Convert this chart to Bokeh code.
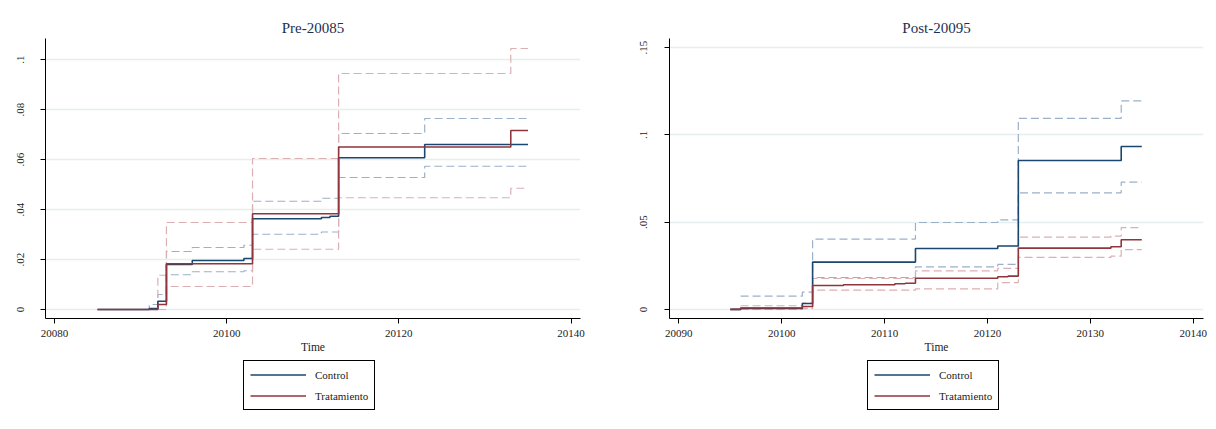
from bokeh.plotting import figure
from bokeh.models import Legend, LegendItem, FixedTicker, Range1d
from bokeh.layouts import row, column
from bokeh.embed import file_html
from bokeh.resources import INLINE

# ---------------- data: Pre-20085 ----------------
pre_ctrl_t = [20085, 20091, 20092, 20093, 20096, 20102, 20103, 20111, 20112, 20113, 20123, 20135]
pre_ctrl_y = [0, 0.0004, 0.0033, 0.018, 0.0196, 0.0204, 0.0363, 0.0368, 0.0373, 0.0607, 0.066, 0.066]
pre_trat_t = [20085, 20092, 20093, 20103, 20113, 20133, 20135]
pre_trat_y = [0, 0.002, 0.0183, 0.0383, 0.065, 0.0716, 0.0716]
pre_ctrl_hi_t = [20085, 20091, 20092, 20093, 20096, 20102, 20103, 20111, 20113, 20123, 20135]
pre_ctrl_hi_y = [0, 0.002, 0.006, 0.0232, 0.0248, 0.0257, 0.0433, 0.0445, 0.0704, 0.0764, 0.0764]
pre_ctrl_lo_t = [20085, 20093, 20096, 20102, 20103, 20111, 20113, 20123, 20135]
pre_ctrl_lo_y = [0, 0.0139, 0.0151, 0.0155, 0.0301, 0.031, 0.0528, 0.0573, 0.0573]
pre_trat_hi_t = [20085, 20092, 20093, 20103, 20113, 20133, 20135]
pre_trat_hi_y = [0, 0.0137, 0.0348, 0.0604, 0.0944, 0.1044, 0.1044]
pre_trat_lo_t = [20085, 20093, 20103, 20113, 20133, 20135]
pre_trat_lo_y = [0, 0.0092, 0.0241, 0.0447, 0.0485, 0.0485]

# ---------------- data: Post-20095 ----------------
post_ctrl_t = [20095, 20096, 20102, 20103, 20113, 20121, 20123, 20133, 20135]
post_ctrl_y = [0, 0.0006, 0.0034, 0.0271, 0.0349, 0.0363, 0.0853, 0.0933, 0.0933]
post_trat_t = [20095, 20096, 20102, 20103, 20106, 20111, 20112, 20113, 20121, 20122, 20123, 20132, 20133, 20135]
post_trat_y = [0, 0.0008, 0.0017, 0.0137, 0.0141, 0.0147, 0.015, 0.0179, 0.0187, 0.0191, 0.0351, 0.0359, 0.0399, 0.0399]
post_ctrl_hi_t = [20096, 20102, 20103, 20113, 20121, 20123, 20133, 20135]
post_ctrl_hi_y = [0.0076, 0.0099, 0.0403, 0.0498, 0.0513, 0.1094, 0.1195, 0.1195]
post_ctrl_lo_t = [20096, 20102, 20103, 20113, 20121, 20123, 20133, 20135]
post_ctrl_lo_y = [0.0, 0.0006, 0.0183, 0.0244, 0.0258, 0.0668, 0.0729, 0.0729]
post_trat_hi_t = [20096, 20102, 20103, 20113, 20121, 20123, 20132, 20133, 20135]
post_trat_hi_y = [0.0021, 0.0036, 0.0177, 0.0221, 0.0235, 0.0414, 0.042, 0.0469, 0.0469]
post_trat_lo_t = [20096, 20102, 20103, 20113, 20121, 20123, 20132, 20133, 20135]
post_trat_lo_y = [0.0, 0.0005, 0.0111, 0.0118, 0.0153, 0.0298, 0.0305, 0.0342, 0.0342]

pre_xticks = [20080, 20100, 20120, 20140]
pre_yticks = [0, 0.02, 0.04, 0.06, 0.08, 0.1]
pre_ylabels = ["0", ".02", ".04", ".06", ".08", ".1"]
post_xticks = [20090, 20100, 20110, 20120, 20130, 20140]
post_yticks = [0, 0.05, 0.1, 0.15]
post_ylabels = ["0", ".05", ".1", ".15"]
legend_labels = ["Control", "Tratamiento"]

NAVY = "#1a476f"
MAROON = "#90353b"
NAVY_CI = "#9cb0c8"
MAROON_CI = "#dbafb4"
GRID = "#e6eff0"
FONT = "Liberation Serif"


def panel(title, xr, yr, xticks, yticks, ylabels, series, width, bl, fw, br):
    p = figure(width=width, height=358, output_backend="svg", toolbar_location=None,
               x_range=Range1d(*xr), y_range=Range1d(*yr),
               min_border_left=bl, min_border_right=br, min_border_top=38,
               min_border_bottom=40, frame_width=fw, frame_height=280)
    p.outline_line_color = None
    p.background_fill_color = "white"
    p.border_fill_color = "white"
    p.title.text = title
    p.title.align = "center"
    p.title.text_font = FONT
    p.title.text_font_size = "15px"
    p.title.text_font_style = "normal"
    p.title.text_color = "#1c2f52"
    p.title.standoff = 6

    p.xgrid.grid_line_color = None
    p.ygrid.grid_line_color = GRID
    p.ygrid.grid_line_width = 1.5

    xa = p.xaxis[0]
    xa.ticker = FixedTicker(ticks=xticks)
    xa.axis_label = "Time"
    ya = p.yaxis[0]
    ya.ticker = FixedTicker(ticks=yticks)
    ya.major_label_overrides = {t: l for t, l in zip(yticks, ylabels)}
    ya.major_label_orientation = "vertical"
    ya.major_label_standoff = 17
    for a in (xa, ya):
        a.axis_line_color = "black"
        a.axis_line_width = 1
        a.major_tick_line_color = "black"
        a.major_tick_out = 5
        a.major_tick_in = 0
        a.minor_tick_line_color = None
        a.major_label_text_font = FONT
        a.major_label_text_font_size = "11px"
        a.major_label_text_color = "#222222"
    xa.major_label_standoff = 6
    xa.axis_label_text_font = FONT
    xa.axis_label_text_font_size = "11.5px"
    xa.axis_label_text_font_style = "normal"
    xa.axis_label_text_color = "#222222"
    xa.axis_label_standoff = 1

    (ct, cy), (tt, ty), (cht, chy), (clt, cly), (tht, thy), (tlt, tly) = series
    p.step(cht, chy, mode="after", line_color=NAVY_CI, line_width=1.2, line_dash="8 4")
    p.step(clt, cly, mode="after", line_color=NAVY_CI, line_width=1.2, line_dash="8 4")
    p.step(tht, thy, mode="after", line_color=MAROON_CI, line_width=1.2, line_dash="8 4")
    p.step(tlt, tly, mode="after", line_color=MAROON_CI, line_width=1.2, line_dash="8 4")
    p.step(ct, cy, mode="after", line_color=NAVY, line_width=1.6)
    p.step(tt, ty, mode="after", line_color=MAROON, line_width=1.6)
    return p


def legend_fig(width, bl, fw, br, leg_x, series):
    (ct, cy), (tt, ty) = series
    f = figure(width=width, height=63, output_backend="svg", toolbar_location=None,
               x_range=Range1d(0, 1), y_range=Range1d(0, 1),
               min_border_left=bl, min_border_right=br, min_border_top=0, min_border_bottom=0,
               frame_width=fw, frame_height=63)
    f.axis.visible = False
    f.grid.visible = False
    f.outline_line_color = None
    f.background_fill_color = "white"
    f.border_fill_color = "white"
    # legend proxies: the real series, drawn outside this (empty) view
    rc = f.step(ct, cy, mode="after", line_color=NAVY, line_width=1.6)
    rt = f.step(tt, ty, mode="after", line_color=MAROON, line_width=1.6)
    leg = Legend(items=[LegendItem(label=legend_labels[0], renderers=[rc]),
                        LegendItem(label=legend_labels[1], renderers=[rt])],
                 location=(leg_x, 11), orientation="vertical")
    leg.border_line_color = "black"
    leg.border_line_width = 1
    leg.border_line_alpha = 1
    leg.background_fill_color = "white"
    leg.padding = 6
    leg.spacing = 6
    leg.glyph_width = 56
    leg.glyph_height = 15
    leg.label_standoff = 9
    leg.label_text_font = FONT
    leg.label_text_font_size = "11px"
    leg.label_text_color = "#222222"
    leg.margin = 0
    f.add_layout(leg, "center")
    return f


p1 = panel("Pre-20085", (20078.95, 20141.1), (-0.0036, 0.1084), pre_xticks, pre_yticks, pre_ylabels,
           [(pre_ctrl_t, pre_ctrl_y), (pre_trat_t, pre_trat_y),
            (pre_ctrl_hi_t, pre_ctrl_hi_y), (pre_ctrl_lo_t, pre_ctrl_lo_y),
            (pre_trat_hi_t, pre_trat_hi_y), (pre_trat_lo_t, pre_trat_lo_y)],
           612, 45, 535, 32)
p2 = panel("Post-20095", (20089.09, 20141.0), (-0.0052, 0.1552), post_xticks, post_yticks, post_ylabels,
           [(post_ctrl_t, post_ctrl_y), (post_trat_t, post_trat_y),
            (post_ctrl_hi_t, post_ctrl_hi_y), (post_ctrl_lo_t, post_ctrl_lo_y),
            (post_trat_hi_t, post_trat_hi_y), (post_trat_lo_t, post_trat_lo_y)],
           600, 57, 534, 9)
l1 = legend_fig(612, 45, 535, 32, 198, [(pre_ctrl_t, pre_ctrl_y), (pre_trat_t, pre_trat_y)])
l2 = legend_fig(600, 57, 534, 9, 198, [(post_ctrl_t, post_ctrl_y), (post_trat_t, post_trat_y)])

layout = row(column(p1, l1, spacing=0), column(p2, l2, spacing=0), spacing=0)
open("out.html", "w").write(file_html(layout, INLINE))
